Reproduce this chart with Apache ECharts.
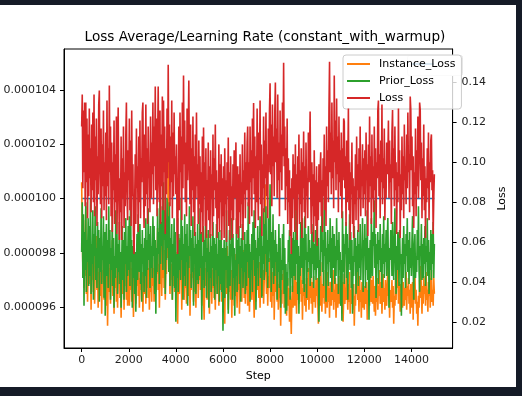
<!DOCTYPE html>
<html>
<head>
<meta charset="utf-8">
<script src="https://cdn.jsdelivr.net/npm/echarts@6/dist/echarts.min.js"></script>
<style>
html,body{margin:0;padding:0;background:#151b27;}
#wrap{position:relative;width:522px;height:396px;background:#151b27;overflow:hidden;}
#chart{position:absolute;left:0;top:5px;width:516px;height:382px;background:#ffffff;}
</style>
</head>
<body>
<div id="wrap"><div id="chart"></div></div>
<script>
// logging step of each point (every 25 steps)
const steps = Array.from({length: 600}, (_, i) => i * 25);

const instanceLoss = [
  0.090, 0.066, 0.048, 0.071, 0.037, 0.059, 0.043, 0.078, 0.034, 0.055, 0.030, 0.052, 0.044, 0.064, 0.039, 0.057, 0.026, 0.049, 0.041, 0.060,
  0.035, 0.054, 0.029, 0.047, 0.042, 0.063, 0.036, 0.051, 0.027, 0.045, 0.038, 0.058, 0.033, 0.050, 0.024, 0.046, 0.040, 0.056, 0.031, 0.048,
  0.036, 0.052, 0.028, 0.044, 0.018, 0.041, 0.058, 0.035, 0.047, 0.029, 0.053, 0.038, 0.061, 0.033, 0.045, 0.024, 0.050, 0.037, 0.056, 0.030,
  0.043, 0.027, 0.049, 0.039, 0.055, 0.032, 0.046, 0.022, 0.040, 0.052, 0.034, 0.048, 0.026, 0.044, 0.038, 0.057, 0.031, 0.045, 0.028, 0.050,
  0.041, 0.028, 0.053, 0.036, 0.047, 0.030, 0.056, 0.039, 0.0224, 0.044, 0.035, 0.051, 0.029, 0.046, 0.038, 0.063, 0.033, 0.049, 0.027, 0.042,
  0.036, 0.054, 0.031, 0.045, 0.025, 0.040, 0.048, 0.034, 0.052, 0.029, 0.043, 0.037, 0.058, 0.032, 0.047, 0.026, 0.041, 0.035, 0.050, 0.030,
  0.058, 0.038, 0.047, 0.030, 0.052, 0.041, 0.035, 0.055, 0.044, 0.067, 0.036, 0.049, 0.027, 0.045, 0.039, 0.060, 0.033, 0.051, 0.042, 0.062,
  0.037, 0.056, 0.031, 0.048, 0.044, 0.072, 0.052, 0.107, 0.046, 0.058, 0.034, 0.053, 0.041, 0.049, 0.031, 0.047, 0.038, 0.056, 0.035, 0.050,
  0.055, 0.037, 0.045, 0.019, 0.041, 0.049, 0.034, 0.062, 0.043, 0.051, 0.026, 0.046, 0.038, 0.058, 0.031, 0.045, 0.037, 0.052, 0.029, 0.057,
  0.040, 0.048, 0.033, 0.054, 0.023, 0.044, 0.036, 0.050, 0.042, 0.059, 0.030, 0.047, 0.035, 0.053, 0.027, 0.045, 0.039, 0.056, 0.032, 0.048,
  0.041, 0.060, 0.036, 0.050, 0.028, 0.045, 0.052, 0.033, 0.021, 0.040, 0.047, 0.038, 0.055, 0.031, 0.048, 0.064, 0.042, 0.024, 0.043, 0.035,
  0.051, 0.029, 0.046, 0.037, 0.057, 0.032, 0.044, 0.026, 0.049, 0.039, 0.054, 0.034, 0.046, 0.028, 0.041, 0.053, 0.036, 0.047, 0.030, 0.043,
  0.030, 0.048, 0.037, 0.019, 0.043, 0.052, 0.034, 0.058, 0.039, 0.026, 0.044, 0.035, 0.055, 0.031, 0.046, 0.022, 0.041, 0.036, 0.050, 0.028,
  0.045, 0.033, 0.054, 0.039, 0.027, 0.047, 0.036, 0.051, 0.024, 0.042, 0.035, 0.049, 0.030, 0.044, 0.038, 0.056, 0.032, 0.046, 0.029, 0.041,
  0.036, 0.052, 0.028, 0.061, 0.040, 0.025, 0.045, 0.034, 0.048, 0.031, 0.042, 0.057, 0.035, 0.022, 0.039, 0.047, 0.030, 0.044, 0.036, 0.060,
  0.041, 0.032, 0.050, 0.027, 0.043, 0.038, 0.055, 0.033, 0.046, 0.029, 0.040, 0.051, 0.089, 0.045, 0.034, 0.049, 0.028, 0.043, 0.037, 0.052,
  0.045, 0.030, 0.040, 0.027, 0.045, 0.033, 0.051, 0.021, 0.039, 0.058, 0.035, 0.044, 0.030, 0.047, 0.026, 0.039, 0.032, 0.042, 0.018, 0.036,
  0.029, 0.044, 0.034, 0.048, 0.027, 0.040, 0.031, 0.038, 0.023, 0.035, 0.042, 0.028, 0.037, 0.020, 0.033, 0.026, 0.0139, 0.031, 0.038, 0.027,
  0.033, 0.045, 0.028, 0.048, 0.034, 0.024, 0.040, 0.031, 0.036, 0.029, 0.043, 0.034, 0.055, 0.030, 0.041, 0.021, 0.037, 0.033, 0.046, 0.028,
  0.039, 0.025, 0.042, 0.035, 0.031, 0.047, 0.026, 0.038, 0.032, 0.044, 0.029, 0.040, 0.024, 0.036, 0.043, 0.030, 0.037, 0.027, 0.041, 0.033,
  0.042, 0.030, 0.019, 0.036, 0.044, 0.028, 0.050, 0.034, 0.025, 0.039, 0.032, 0.046, 0.029, 0.038, 0.024, 0.041, 0.033, 0.027, 0.045, 0.030,
  0.037, 0.022, 0.040, 0.035, 0.028, 0.043, 0.031, 0.046, 0.026, 0.036, 0.030, 0.042, 0.022, 0.034, 0.039, 0.027, 0.035, 0.043, 0.029, 0.038,
  0.028, 0.036, 0.024, 0.040, 0.020, 0.032, 0.044, 0.029, 0.037, 0.031, 0.051, 0.035, 0.026, 0.039, 0.030, 0.045, 0.024, 0.036, 0.029, 0.042,
  0.033, 0.026, 0.039, 0.018, 0.033, 0.028, 0.041, 0.035, 0.047, 0.031, 0.038, 0.025, 0.043, 0.030, 0.036, 0.022, 0.040, 0.033, 0.027, 0.037,
  0.026, 0.038, 0.034, 0.029, 0.040, 0.021, 0.036, 0.031, 0.045, 0.028, 0.054, 0.037, 0.030, 0.041, 0.029, 0.043, 0.034, 0.025, 0.038, 0.023,
  0.035, 0.030, 0.042, 0.026, 0.038, 0.033, 0.046, 0.029, 0.031, 0.040, 0.024, 0.036, 0.044, 0.030, 0.037, 0.026, 0.041, 0.032, 0.028, 0.039,
  0.047, 0.033, 0.040, 0.022, 0.036, 0.030, 0.034, 0.041, 0.027, 0.038, 0.019, 0.033, 0.028, 0.042, 0.031, 0.046, 0.037, 0.052, 0.029, 0.040,
  0.035, 0.025, 0.039, 0.032, 0.044, 0.027, 0.040, 0.034, 0.028, 0.037, 0.031, 0.045, 0.026, 0.038, 0.033, 0.042, 0.029, 0.036, 0.024, 0.039,
  0.035, 0.027, 0.040, 0.021, 0.038, 0.031, 0.044, 0.029, 0.036, 0.024, 0.030, 0.018, 0.033, 0.027, 0.041, 0.032, 0.048, 0.035, 0.024, 0.038,
  0.029, 0.043, 0.034, 0.039, 0.028, 0.045, 0.031, 0.036, 0.025, 0.040, 0.033, 0.042, 0.027, 0.037, 0.046, 0.030, 0.036, 0.028, 0.042, 0.034
];

const priorLoss = [
  0.055, 0.080, 0.042, 0.074, 0.028, 0.065, 0.046, 0.080, 0.035, 0.061, 0.050, 0.072, 0.038, 0.068, 0.043, 0.082, 0.034, 0.059, 0.049, 0.076,
  0.031, 0.064, 0.053, 0.078, 0.041, 0.057, 0.037, 0.070, 0.047, 0.066, 0.030, 0.062, 0.045, 0.077, 0.039, 0.058, 0.051, 0.073, 0.032, 0.065,
  0.023, 0.054, 0.069, 0.043, 0.061, 0.037, 0.078, 0.049, 0.066, 0.031, 0.057, 0.046, 0.074, 0.038, 0.062, 0.027, 0.053, 0.042, 0.076, 0.047,
  0.064, 0.034, 0.059, 0.045, 0.070, 0.039, 0.055, 0.027, 0.050, 0.068, 0.041, 0.061, 0.031, 0.065, 0.049, 0.072, 0.035, 0.058, 0.043, 0.068,
  0.046, 0.073, 0.038, 0.081, 0.050, 0.061, 0.027, 0.058, 0.042, 0.065, 0.034, 0.055, 0.025, 0.047, 0.064, 0.041, 0.074, 0.053, 0.045, 0.069,
  0.039, 0.059, 0.030, 0.066, 0.049, 0.057, 0.035, 0.062, 0.043, 0.072, 0.032, 0.061, 0.046, 0.077, 0.051, 0.064, 0.037, 0.068, 0.047, 0.058,
  0.042, 0.073, 0.053, 0.068, 0.034, 0.061, 0.024, 0.057, 0.045, 0.077, 0.054, 0.065, 0.039, 0.082, 0.049, 0.070, 0.058, 0.078, 0.046, 0.090,
  0.061, 0.076, 0.034, 0.068, 0.051, 0.082, 0.057, 0.073, 0.045, 0.080, 0.038, 0.062, 0.050, 0.069, 0.031, 0.059, 0.043, 0.072, 0.037, 0.065,
  0.020, 0.054, 0.042, 0.072, 0.035, 0.064, 0.046, 0.061, 0.041, 0.082, 0.051, 0.068, 0.031, 0.059, 0.043, 0.074, 0.038, 0.064, 0.050, 0.069,
  0.028, 0.058, 0.047, 0.078, 0.053, 0.066, 0.037, 0.062, 0.045, 0.073, 0.028, 0.057, 0.049, 0.065, 0.034, 0.059, 0.041, 0.069, 0.039, 0.061,
  0.043, 0.077, 0.047, 0.065, 0.021, 0.053, 0.041, 0.068, 0.037, 0.061, 0.050, 0.073, 0.032, 0.057, 0.045, 0.066, 0.027, 0.055, 0.042, 0.064,
  0.035, 0.058, 0.047, 0.070, 0.038, 0.062, 0.031, 0.059, 0.046, 0.069, 0.034, 0.054, 0.043, 0.065, 0.030, 0.061, 0.039, 0.066, 0.035, 0.057,
  0.0155, 0.041, 0.061, 0.032, 0.057, 0.046, 0.076, 0.037, 0.053, 0.024, 0.045, 0.066, 0.038, 0.059, 0.054, 0.072, 0.031, 0.064, 0.042, 0.057,
  0.023, 0.051, 0.043, 0.072, 0.035, 0.061, 0.049, 0.068, 0.039, 0.058, 0.030, 0.062, 0.047, 0.069, 0.037, 0.055, 0.045, 0.065, 0.034, 0.059,
  0.038, 0.066, 0.050, 0.080, 0.042, 0.059, 0.030, 0.055, 0.046, 0.064, 0.035, 0.070, 0.051, 0.076, 0.043, 0.061, 0.026, 0.057, 0.047, 0.068,
  0.038, 0.062, 0.053, 0.073, 0.042, 0.065, 0.032, 0.058, 0.049, 0.077, 0.041, 0.069, 0.054, 0.078, 0.045, 0.061, 0.037, 0.072, 0.050, 0.066,
  0.089, 0.057, 0.035, 0.065, 0.047, 0.074, 0.039, 0.061, 0.043, 0.066, 0.050, 0.059, 0.031, 0.055, 0.045, 0.069, 0.037, 0.062, 0.027, 0.051,
  0.041, 0.064, 0.046, 0.069, 0.034, 0.057, 0.024, 0.049, 0.0255, 0.045, 0.038, 0.061, 0.050, 0.066, 0.031, 0.054, 0.042, 0.062, 0.035, 0.053,
  0.065, 0.043, 0.061, 0.041, 0.080, 0.049, 0.068, 0.034, 0.058, 0.024, 0.053, 0.043, 0.070, 0.059, 0.047, 0.072, 0.039, 0.062, 0.035, 0.073,
  0.051, 0.064, 0.032, 0.055, 0.045, 0.068, 0.050, 0.061, 0.038, 0.057, 0.042, 0.069, 0.049, 0.065, 0.037, 0.059, 0.046, 0.066, 0.041, 0.054,
  0.077, 0.047, 0.062, 0.020, 0.051, 0.043, 0.068, 0.055, 0.074, 0.045, 0.061, 0.038, 0.082, 0.053, 0.065, 0.030, 0.057, 0.049, 0.066, 0.038,
  0.059, 0.050, 0.072, 0.042, 0.062, 0.035, 0.068, 0.054, 0.047, 0.064, 0.039, 0.058, 0.043, 0.072, 0.051, 0.061, 0.034, 0.065, 0.046, 0.055,
  0.028, 0.051, 0.0205, 0.0755, 0.045, 0.064, 0.039, 0.059, 0.054, 0.070, 0.042, 0.064, 0.031, 0.057, 0.049, 0.074, 0.046, 0.065, 0.037, 0.061,
  0.024, 0.053, 0.043, 0.068, 0.050, 0.062, 0.034, 0.058, 0.045, 0.066, 0.038, 0.059, 0.047, 0.069, 0.041, 0.055, 0.053, 0.072, 0.035, 0.061,
  0.053, 0.069, 0.037, 0.062, 0.046, 0.076, 0.041, 0.057, 0.021, 0.050, 0.061, 0.042, 0.072, 0.054, 0.043, 0.065, 0.058, 0.081, 0.047, 0.064,
  0.032, 0.059, 0.049, 0.065, 0.039, 0.061, 0.051, 0.069, 0.045, 0.057, 0.037, 0.064, 0.049, 0.073, 0.042, 0.059, 0.050, 0.066, 0.043, 0.062,
  0.072, 0.047, 0.027, 0.057, 0.051, 0.066, 0.059, 0.043, 0.070, 0.050, 0.041, 0.061, 0.077, 0.053, 0.034, 0.058, 0.046, 0.065, 0.055, 0.038,
  0.066, 0.050, 0.054, 0.023, 0.046, 0.062, 0.042, 0.068, 0.049, 0.059, 0.037, 0.064, 0.053, 0.072, 0.045, 0.061, 0.039, 0.065, 0.047, 0.057,
  0.043, 0.061, 0.073, 0.049, 0.031, 0.057, 0.064, 0.042, 0.053, 0.045, 0.066, 0.051, 0.078, 0.046, 0.035, 0.058, 0.053, 0.069, 0.041, 0.059,
  0.042, 0.062, 0.049, 0.068, 0.038, 0.058, 0.050, 0.072, 0.043, 0.061, 0.034, 0.055, 0.046, 0.066, 0.041, 0.064, 0.049, 0.070, 0.042, 0.059
];

const totalLoss = [
  0.118, 0.134, 0.087, 0.126, 0.095, 0.130, 0.078, 0.130, 0.090, 0.122, 0.072, 0.114, 0.083, 0.127, 0.092, 0.107, 0.075, 0.119, 0.086, 0.125,
  0.080, 0.134, 0.073, 0.113, 0.091, 0.122, 0.068, 0.103, 0.084, 0.129, 0.136, 0.094, 0.079, 0.117, 0.072, 0.109, 0.088, 0.126, 0.076, 0.100,
  0.083, 0.115, 0.071, 0.131, 0.088, 0.107, 0.079, 0.1385, 0.095, 0.118, 0.073, 0.110, 0.065, 0.100, 0.086, 0.121, 0.069, 0.104, 0.080, 0.123,
  0.064, 0.098, 0.1275, 0.087, 0.061, 0.092, 0.075, 0.113, 0.061, 0.102, 0.082, 0.118, 0.067, 0.095, 0.078, 0.114, 0.130, 0.084, 0.071, 0.106,
  0.091, 0.122, 0.076, 0.111, 0.068, 0.126, 0.083, 0.099, 0.063, 0.054, 0.079, 0.104, 0.069, 0.117, 0.087, 0.098, 0.065, 0.113, 0.080, 0.121,
  0.072, 0.102, 0.090, 0.125, 0.130, 0.086, 0.067, 0.114, 0.078, 0.129, 0.084, 0.107, 0.069, 0.118, 0.092, 0.100, 0.075, 0.123, 0.082, 0.110,
  0.094, 0.130, 0.079, 0.118, 0.098, 0.138, 0.086, 0.122, 0.073, 0.110, 0.138, 0.091, 0.080, 0.126, 0.069, 0.114, 0.088, 0.133, 0.076, 0.131,
  0.095, 0.118, 0.064, 0.107, 0.084, 0.127, 0.092, 0.149, 0.100, 0.119, 0.078, 0.113, 0.090, 0.131, 0.072, 0.115, 0.083, 0.125, 0.094, 0.103,
  0.084, 0.109, 0.065, 0.054, 0.088, 0.118, 0.076, 0.125, 0.095, 0.113, 0.071, 0.130, 0.087, 0.1435, 0.099, 0.121, 0.080, 0.110, 0.073, 0.127,
  0.091, 0.115, 0.141, 0.096, 0.079, 0.119, 0.068, 0.107, 0.086, 0.123, 0.075, 0.103, 0.063, 0.114, 0.082, 0.125, 0.088, 0.099, 0.069, 0.111,
  0.079, 0.103, 0.064, 0.095, 0.075, 0.113, 0.060, 0.1175, 0.083, 0.100, 0.068, 0.107, 0.062, 0.091, 0.076, 0.110, 0.071, 0.098, 0.062, 0.106,
  0.082, 0.094, 0.063, 0.114, 0.073, 0.102, 0.086, 0.119, 0.077, 0.096, 0.062, 0.090, 0.072, 0.109, 0.065, 0.099, 0.080, 0.104, 0.061, 0.092,
  0.073, 0.098, 0.062, 0.107, 0.079, 0.091, 0.060, 0.100, 0.083, 0.1125, 0.068, 0.095, 0.061, 0.103, 0.076, 0.088, 0.062, 0.099, 0.071, 0.106,
  0.082, 0.092, 0.110, 0.064, 0.086, 0.098, 0.062, 0.094, 0.075, 0.104, 0.067, 0.090, 0.079, 0.109, 0.061, 0.096, 0.084, 0.115, 0.072, 0.100,
  0.086, 0.110, 0.118, 0.078, 0.100, 0.069, 0.118, 0.090, 0.106, 0.073, 0.122, 0.092, 0.1297, 0.084, 0.113, 0.067, 0.103, 0.080, 0.127, 0.088,
  0.071, 0.115, 0.096, 0.131, 0.079, 0.109, 0.063, 0.099, 0.087, 0.123, 0.075, 0.111, 0.092, 0.125, 0.083, 0.104, 0.072, 0.117, 0.095, 0.126,
  0.1397, 0.094, 0.119, 0.078, 0.129, 0.098, 0.113, 0.083, 0.125, 0.140, 0.100, 0.117, 0.082, 0.134, 0.091, 0.110, 0.073, 0.126, 0.095, 0.114,
  0.086, 0.130, 0.103, 0.150, 0.098, 0.118, 0.076, 0.107, 0.088, 0.122, 0.069, 0.102, 0.080, 0.096, 0.063, 0.087, 0.054, 0.092, 0.072, 0.104,
  0.082, 0.099, 0.065, 0.109, 0.076, 0.094, 0.061, 0.103, 0.084, 0.114, 0.069, 0.096, 0.079, 0.107, 0.062, 0.100, 0.087, 0.1155, 0.075, 0.098,
  0.067, 0.110, 0.083, 0.092, 0.072, 0.115, 0.090, 0.103, 0.1255, 0.086, 0.064, 0.100, 0.078, 0.094, 0.060, 0.106, 0.073, 0.091, 0.068, 0.098,
  0.058, 0.090, 0.071, 0.099, 0.080, 0.095, 0.105, 0.073, 0.091, 0.065, 0.102, 0.083, 0.114, 0.076, 0.098, 0.068, 0.118, 0.088, 0.106, 0.080,
  0.126, 0.1505, 0.095, 0.115, 0.084, 0.130, 0.092, 0.111, 0.077, 0.1435, 0.100, 0.121, 0.086, 0.132, 0.094, 0.113, 0.075, 0.123, 0.090, 0.106,
  0.083, 0.115, 0.072, 0.107, 0.091, 0.122, 0.1205, 0.087, 0.103, 0.068, 0.111, 0.080, 0.098, 0.127, 0.076, 0.100, 0.061, 0.095, 0.084, 0.110,
  0.069, 0.092, 0.062, 0.088, 0.079, 0.104, 0.071, 0.113, 0.086, 0.099, 0.065, 0.107, 0.082, 0.118, 0.073, 0.096, 0.088, 0.109, 0.077, 0.102,
  0.084, 0.106, 0.073, 0.115, 0.091, 0.099, 0.063, 0.109, 0.080, 0.123, 0.088, 0.103, 0.069, 0.114, 0.082, 0.098, 0.075, 0.118, 0.086, 0.107,
  0.067, 0.100, 0.092, 0.126, 0.131, 0.083, 0.104, 0.072, 0.111, 0.090, 0.129, 0.079, 0.102, 0.087, 0.117, 0.071, 0.099, 0.082, 0.110, 0.094,
  0.102, 0.121, 0.082, 0.111, 0.090, 0.099, 0.069, 0.115, 0.1263, 0.092, 0.107, 0.078, 0.118, 0.086, 0.100, 0.064, 0.095, 0.080, 0.127, 0.088,
  0.106, 0.062, 0.094, 0.076, 0.113, 0.084, 0.103, 0.072, 0.119, 0.091, 0.098, 0.079, 0.114, 0.087, 0.125, 0.095, 0.104, 0.075, 0.133, 0.1263,
  0.096, 0.113, 0.078, 0.103, 0.067, 0.095, 0.084, 0.117, 0.073, 0.106, 0.088, 0.123, 0.082, 0.099, 0.130, 0.1263, 0.091, 0.110, 0.072, 0.102,
  0.083, 0.119, 0.076, 0.098, 0.062, 0.092, 0.080, 0.107, 0.087, 0.115, 0.071, 0.100, 0.090, 0.111, 0.114, 0.086, 0.096, 0.064, 0.082, 0.094
];

// learning rate (constant_with_warmup, constant part)
const lrSteps = [0, 14975];
const lrValues = [0.0001, 0.0001];

const xTicks = [0, 2000, 4000, 6000, 8000, 10000, 12000, 14000];
const lrTicks = [0.000096, 0.000098, 0.000100, 0.000102, 0.000104];
const lossTicks = [0.02, 0.04, 0.06, 0.08, 0.10, 0.12, 0.14];

const FONT = 'DejaVu Sans';
const pair = (xs, ys) => xs.map((x, i) => [x, ys[i]]);

const chart = echarts.init(document.getElementById('chart'), null, {renderer: 'canvas'});
chart.setOption({
  animation: false,
  backgroundColor: '#ffffff',
  title: {
    text: 'Loss Average/Learning Rate (constant_with_warmup)',
    left: 265, top: 25, textAlign: 'center', padding: 0,
    textStyle: {fontFamily: FONT, fontSize: 13.6, fontWeight: 'normal', color: '#000'}
  },
  grid: {left: 64, right: 49, top: 44, bottom: 39, show: true, borderColor: '#000', borderWidth: 1, backgroundColor: '#fff'},
  legend: {
    data: ['Instance_Loss', 'Prior_Loss', 'Loss'],
    orient: 'vertical', left: 343, top: 50,
    icon: 'rect', itemWidth: 23, itemHeight: 2, itemGap: 5,
    padding: [3, 6, 5, 4],
    backgroundColor: 'rgba(255,255,255,0.8)', borderColor: '#cccccc', borderWidth: 1, borderRadius: 3,
    textStyle: {fontFamily: FONT, fontSize: 11, color: '#000', lineHeight: 12, padding: [0, 0, 0, 4]}
  },
  graphic: [
    {type: 'rect', z: 1, shape: {x: 407.5, y: 50.5, width: 55, height: 20, r: 2}, style: {fill: '#ffffff', stroke: '#e6e6e6', lineWidth: 1}},
    {type: 'line', z: 1, shape: {x1: 411, y1: 59, x2: 434, y2: 59}, style: {stroke: '#1f77b4', lineWidth: 1.6}}
  ],
  xAxis: {
    type: 'value', min: -750, max: 15750,
    name: 'Step', nameLocation: 'middle', nameGap: 23,
    nameTextStyle: {fontFamily: FONT, fontSize: 11, color: '#000'},
    axisLine: {show: true, onZero: false, lineStyle: {color: '#000', width: 1}},
    axisTick: {show: true, length: 4, inside: false, customValues: xTicks, lineStyle: {color: '#000'}},
    axisLabel: {customValues: xTicks, margin: 7, fontFamily: FONT, fontSize: 11, color: '#222',
      formatter: v => String(v)},
    splitLine: {show: false}
  },
  yAxis: [
    {
      type: 'value', position: 'left', min: 0.0000945, max: 0.0001055,
      axisLine: {show: true, onZero: false, lineStyle: {color: '#000', width: 1}},
      axisTick: {show: true, length: 4, customValues: lrTicks, lineStyle: {color: '#000'}},
      axisLabel: {customValues: lrTicks, margin: 8, fontFamily: FONT, fontSize: 11, color: '#222',
        formatter: v => v.toFixed(6)},
      splitLine: {show: false}
    },
    {
      type: 'value', position: 'right', min: 0.00685, max: 0.15685,
      name: 'Loss', nameLocation: 'middle', nameGap: 43, nameRotate: 90,
      nameTextStyle: {fontFamily: FONT, fontSize: 11, color: '#000'},
      axisLine: {show: true, onZero: false, lineStyle: {color: '#000', width: 1}},
      axisTick: {show: true, length: 4, customValues: lossTicks, lineStyle: {color: '#000'}},
      axisLabel: {customValues: lossTicks, margin: 9, fontFamily: FONT, fontSize: 11, color: '#222',
        formatter: v => v.toFixed(2)},
      splitLine: {show: false}
    }
  ],
  series: [
    {name: 'Learning Rate', type: 'line', yAxisIndex: 0, z: 0, symbol: 'none', data: pair(lrSteps, lrValues),
      lineStyle: {color: '#1f77b4', width: 1.6}, itemStyle: {color: '#1f77b4'}},
    {name: 'Instance_Loss', type: 'line', yAxisIndex: 1, z: 2, symbol: 'none', sampling: 'none', data: pair(steps, instanceLoss),
      lineStyle: {color: '#ff7f0e', width: 1.6}, itemStyle: {color: '#ff7f0e'}},
    {name: 'Prior_Loss', type: 'line', yAxisIndex: 1, z: 3, symbol: 'none', sampling: 'none', data: pair(steps, priorLoss),
      lineStyle: {color: '#2ca02c', width: 1.6}, itemStyle: {color: '#2ca02c'}},
    {name: 'Loss', type: 'line', yAxisIndex: 1, z: 4, symbol: 'none', sampling: 'none', data: pair(steps, totalLoss),
      lineStyle: {color: '#d62728', width: 1.6}, itemStyle: {color: '#d62728'}}
  ]
});
</script>
</body>
</html>
